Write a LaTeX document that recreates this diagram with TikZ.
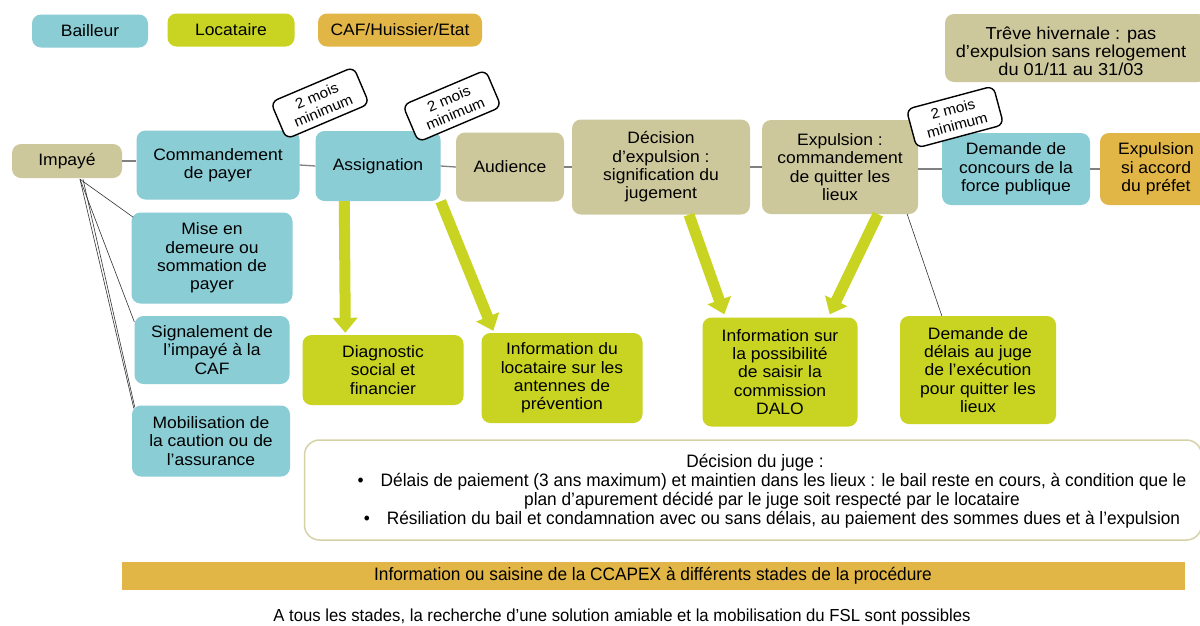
\documentclass[tikz,border=0pt]{standalone}
\usepackage{fontspec}
\setmainfont{Liberation Sans}[FakeStretch=1.06]
\newfontfamily\narrowfont[FakeStretch=0.96]{Liberation Sans}
\newfontfamily\widefont[FakeStretch=1.05]{Liberation Sans}
\usetikzlibrary{arrows.meta,calc}
\definecolor{cBail}{RGB}{138,205,213}
\definecolor{cLoc}{RGB}{200,212,33}
\definecolor{cEtat}{RGB}{226,182,70}
\definecolor{cKhaki}{RGB}{205,200,156}
\definecolor{cLine}{RGB}{128,128,128}
\definecolor{cBorder}{RGB}{214,210,168}
\newcommand{\mainfs}{\fontsize{16.5}{18.3}\selectfont}
\newcommand{\trevefs}{\widefont\fontsize{17.3}{18}\selectfont}
\newcommand{\smallfs}{\fontsize{14.5}{16.5}\selectfont}
\newcommand{\narrowfs}{\narrowfont\fontsize{18}{19}\selectfont}
\newcommand{\footfs}{\narrowfont\fontsize{17.4}{19}\selectfont}
\begin{document}
\begin{tikzpicture}[x=1pt,y=-1pt,
  box/.style={rounded corners=9pt, align=center, inner sep=0pt, font=\mainfs},
  bail/.style={box, fill=cBail},
  loc/.style={box, fill=cLoc},
  etat/.style={box, fill=cEtat},
  neutral/.style={box, fill=cKhaki},
  delay/.style={draw=black, line width=1.4pt, fill=white, rounded corners=7pt, align=center,
     font=\smallfs, minimum width=90pt, minimum height=40pt, inner sep=1pt},
  conn/.style={draw=cLine, line width=1.3pt},
  thin/.style={draw=black!80, line width=0.6pt},
  bigarrow/.style={draw=cLoc, line width=11pt, -{Triangle[width=24pt,length=15pt]}}]
\useasboundingbox (0,0) rectangle (1200,625);
\fill[white] (0,0) rectangle (1200,625);

% legend
\node[bail, minimum width=116, minimum height=33] (lbail) at (90,31) {Bailleur};
\node[loc, minimum width=127, minimum height=33] (lloc) at (231,30) {Locataire};
\node[etat, minimum width=164, minimum height=33] (letat) at (400,30) {CAF/Huissier/Etat};
\node[neutral, minimum width=262, minimum height=68, font=\trevefs] (treve) at (1076,48) {};
\node[align=center, font=\trevefs, inner sep=0pt] (trevetxt) at (1071,51) {Trêve hivernale : pas\\d’expulsion sans relogement\\du 01/11 au 31/03};

% main row
\node[neutral, minimum width=110, minimum height=34] (imp) at (67,161) {Impayé};
\node[bail, minimum width=163, minimum height=69] (cmd) at (218,165) {Commandement\\de payer};
\node[bail, minimum width=125, minimum height=70] (asg) at (378,166) {Assignation};
\node[neutral, minimum width=108, minimum height=69] (aud) at (510,167) {Audience};
\node[neutral, minimum width=178, minimum height=95] (dec) at (661,167) {Décision\\d’expulsion :\\signification du\\jugement};
\node[neutral, minimum width=156, minimum height=94] (expl) at (840,167) {Expulsion :\\commandement\\de quitter les\\lieux};
\node[bail, minimum width=148, minimum height=72] (conc) at (1016,169) {Demande de\\concours de la\\force publique};
\node[etat, minimum width=112, minimum height=72] (pref) at (1156,169) {Expulsion\\si accord\\du préfet};

% connectors main row
\draw[conn] (imp.east) -- (cmd.west |- imp.east);
\draw[conn] (cmd.east) -- (asg.west);
\draw[conn] (asg.east) -- (aud.west);
\draw[conn] (aud.east) -- (dec.west |- aud.east);
\draw[conn] (dec.east) -- (expl.west);
\draw[conn] (expl.east |- conc.west) -- (conc.west);
\draw[conn] (conc.east) -- (pref.west);

% delay labels
\node[delay, rotate=23] (d1) at (320,103) {2 mois\\minimum};
\node[delay, rotate=23] (d2) at (452,106) {2 mois\\minimum};
\node[delay, rotate=15] (d3) at (955,117) {2 mois\\minimum};

% left column
\node[bail, minimum width=161, minimum height=91] (mise) at (212,258) {Mise en\\demeure ou\\sommation de\\payer};
\node[bail, minimum width=155, minimum height=68] (sig) at (212,350) {Signalement de\\l’impayé à la\\CAF};
\node[bail, minimum width=158, minimum height=71] (mob) at (211,441) {Mobilisation de\\la caution ou de\\l’assurance};
\coordinate (impfoot) at ($(imp.south)+(13,1)$);
\draw[thin] (impfoot) -- ($(mise.north west)+(2,5)$);
\draw[thin] (impfoot) -- ($(sig.north west)+(0,6)$);
\draw[thin] (impfoot) -- ($(mob.north west)+(2,3)$);
\draw[thin] ($(impfoot)+(3,0)$) -- ($(mob.north west)+(3,2)$);

% tenant boxes
\node[loc, minimum width=161, minimum height=70] (diag) at (383,370) {Diagnostic\\social et\\financier};
\node[loc, minimum width=161, minimum height=90] (infoloc) at (562,378) {Information du\\locataire sur les\\antennes de\\prévention};
\node[loc, minimum width=155, minimum height=109] (dalo) at (780,372) {Information sur\\la possibilité\\de saisir la\\commission\\DALO};
\node[loc, minimum width=156, minimum height=108] (delais) at (978,370) {Demande de\\délais au juge\\de l’exécution\\pour quitter les\\lieux};

% big arrows
\draw[bigarrow] ($(asg.south west)+(29,0)$) -- ($(diag.north west)+(43,-2)$);
\draw[bigarrow] ($(asg.south east)+(0,0)$) -- ($(infoloc.north west)+(12,-2)$);
\draw[bigarrow] ($(dec.south)+(28,0)$) -- ($(dalo.north west)+(22,-3)$);
\draw[bigarrow] ($(expl.south)+(38,0)$) -- ($(dalo.north east)+(-28,-3)$);
\draw[thin] ($(expl.south east)+(-11,0)$) -- ($(delais.north west)+(42,0)$);

% judge decision
\node[draw=cBorder, line width=1.5pt, fill=white, rounded corners=15pt, minimum width=897, minimum height=100, inner sep=0pt] (juge) at (753,490) {};
\draw[conn] ($(dec.south)+(-2,0)$) -- ($(dec.south)+(-2,0)$ |- juge.north);
\node[align=center, font=\narrowfs, inner sep=0pt] (jugetxt) at (772,491) {Décision du juge :\hspace*{34pt}\\
\textbullet\hspace{17pt}Délais de paiement (3 ans maximum) et maintien dans les lieux : le bail reste en cours, à condition que le\\
plan d’apurement décidé par le juge soit respecté par le locataire\hspace*{28pt}\\
\textbullet\hspace{17pt}Résiliation du bail et condamnation avec ou sans délais, au paiement des sommes dues et à l’expulsion};

% CCAPEX bar
\node[fill=cEtat, minimum width=1063, minimum height=28, inner sep=0pt, font=\narrowfs] (ccapex) at (653,576) {Information ou saisine de la CCAPEX à différents stades de la procédure};

% bottom line
\node[font=\footfs, inner sep=0pt] (foot) at (622,617) {A tous les stades, la recherche d’une solution amiable et la mobilisation du FSL sont possibles};
\end{tikzpicture}
\end{document}
